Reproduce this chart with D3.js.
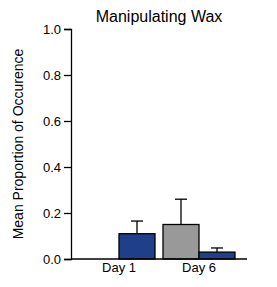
<!DOCTYPE html>
<html>
<head>
<meta charset="utf-8">
<script src="https://cdn.jsdelivr.net/npm/d3@7"></script>
<style>
  body { margin: 0; background: #fff; }
  svg text { font-family: "Liberation Sans", Arial, sans-serif; fill: #000; }
</style>
</head>
<body>
<div id="chart"></div>
<script>
(function(){
    var days = ['Day 1', 'Day 6'];
    var groups = ['gray', 'blue'];
    var grayMean = [0, 0.15];
    var grayErr = [0, 0.11];
    var blueMean = [0.11, 0.03];
    var blueErr = [0.055, 0.018];
    var yTicks = [0, 0.2, 0.4, 0.6, 0.8, 1.0];
    var colors = {gray: '#999999', blue: '#1f3f8a'};

    var width = 277, height = 287;
    var margin = {top: 29, left: 71, right: 30, bottom: 28};

    var data = [];
    days.forEach(function(d, i){
	data.push({day: d, grp: 'gray', v: grayMean[i], e: grayErr[i]});
	data.push({day: d, grp: 'blue', v: blueMean[i], e: blueErr[i]});
    });

    var svg = d3.select('#chart').append('svg')
	.attr('width', width)
	.attr('height', height);

    var x = d3.scaleBand().domain(days)
	.range([margin.left, width - margin.right])
	.paddingInner(0.1).paddingOuter(0.15);
    var xs = d3.scaleBand().domain(groups).range([0, x.bandwidth()]);
    var y = d3.scaleLinear().domain([0, 1]).range([height - margin.bottom, margin.top]);

    // bars
    svg.append('g').selectAll('rect')
	.data(data.filter(function(d){ return d.v > 0; }))
	.enter().append('rect')
	.attr('x', function(d){ return x(d.day) + xs(d.grp); })
	.attr('y', function(d){ return y(d.v); })
	.attr('width', xs.bandwidth())
	.attr('height', function(d){ return y(0) - y(d.v); })
	.attr('fill', function(d){ return colors[d.grp]; })
	.attr('stroke', '#000')
	.attr('stroke-width', 1.3);

    // error bars (upper only)
    var eb = svg.append('g').selectAll('g')
	.data(data.filter(function(d){ return d.e > 0; }))
	.enter().append('g')
	.attr('stroke', '#000').attr('stroke-width', 1.3);
    eb.append('line')
	.attr('x1', function(d){ return x(d.day) + xs(d.grp) + xs.bandwidth()/2; })
	.attr('x2', function(d){ return x(d.day) + xs(d.grp) + xs.bandwidth()/2; })
	.attr('y1', function(d){ return y(d.v); })
	.attr('y2', function(d){ return y(d.v + d.e); });
    eb.append('line')
	.attr('x1', function(d){ return x(d.day) + xs(d.grp) + xs.bandwidth()/2 - 6; })
	.attr('x2', function(d){ return x(d.day) + xs(d.grp) + xs.bandwidth()/2 + 6; })
	.attr('y1', function(d){ return y(d.v + d.e); })
	.attr('y2', function(d){ return y(d.v + d.e); });

    // y axis
    var yAxis = svg.append('g')
	.attr('transform', 'translate(' + margin.left + ',0)')
	.call(d3.axisLeft(y).tickValues(yTicks).tickFormat(d3.format('.1f')).tickSizeOuter(0).tickSize(7).tickPadding(3));
    yAxis.select('.domain').attr('stroke-width', 1.3);
    yAxis.selectAll('.tick line').attr('stroke-width', 1.3);
    yAxis.selectAll('text').style('font-size', '13px');

    // x axis
    var xAxis = svg.append('g')
	.attr('transform', 'translate(0,' + y(0) + ')')
	.call(d3.axisBottom(x).tickSize(0).tickPadding(4));
    xAxis.select('.domain').attr('stroke-width', 1.3)
	.attr('d', 'M' + margin.left + ',0H' + (width - margin.right));
    xAxis.selectAll('text').style('font-size', '13px');

    svg.append('text')
	.attr('x', 159).attr('y', 22)
	.attr('text-anchor', 'middle')
	.style('font-size', '16px')
	.text('Manipulating Wax');

    svg.append('text')
	.attr('transform', 'translate(23,' + ((y(0) + y(1)) / 2 + 0) + ') rotate(-90)')
	.attr('text-anchor', 'middle')
	.style('font-size', '14px')
	.text('Mean Proportion of Occurence');
})();
</script>
</body>
</html>
